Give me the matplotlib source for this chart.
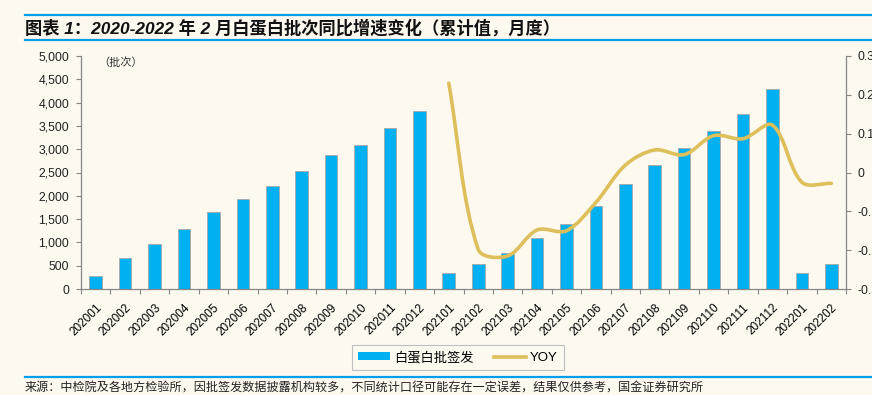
import matplotlib
matplotlib.use('Agg')
import math
import matplotlib.pyplot as plt
from matplotlib.lines import Line2D
from matplotlib.patches import PathPatch
from matplotlib.path import Path
from matplotlib.ticker import FuncFormatter

# monthly cumulative batches, 202001 .. 202202
months = ['202001', '202002', '202003', '202004', '202005', '202006',
          '202007', '202008', '202009', '202010', '202011', '202012',
          '202101', '202102', '202103', '202104', '202105', '202106',
          '202107', '202108', '202109', '202110', '202111', '202112',
          '202201', '202202']
batches = [270, 660, 970, 1290, 1650, 1930, 2210, 2525, 2880, 3100, 3450, 3830,
           340, 540, 770, 1090, 1400, 1790, 2250, 2670, 3020, 3400, 3760, 4290,
           340, 530]
# YOY only from 202101 on
yoy_start = 12
yoy = [0.23, -0.198, -0.215, -0.148, -0.15, -0.077, 0.019, 0.058, 0.046,
       0.095, 0.087, 0.122, -0.025, -0.028]

bg = '#FEF9EF'
blue = '#00B0F0'
gold = '#DDBF5C'
grey = '#868686'
cjk = ['Noto Sans CJK SC', 'DejaVu Sans']
latin = ['Liberation Sans', 'Noto Sans CJK SC']

fig = plt.figure(figsize=(8.72, 3.95), dpi=100, facecolor=bg)
ax = fig.add_axes([81/872, 1-289/395, 765/872, 233/395])
ax.set_facecolor(bg)

x = list(range(len(months)))
ax.bar(x, batches, width=0.43, color=blue, edgecolor='#A8A8A8', linewidth=0.6,
       zorder=2)
ax.set_xlim(-0.5, len(months) - 0.5)
ax.set_ylim(0, 5000)
ax.set_yticks(range(0, 5001, 500))
ax.yaxis.set_major_formatter(FuncFormatter(lambda v, p: f'{int(v):,}'))

ax.set_xticks(x)
ax.set_xticklabels(months, rotation=45, ha='right', rotation_mode='anchor',
                   family=latin, fontsize=8.5)
ax.set_xticks([i - 0.5 for i in range(len(months) + 1)], minor=True)
ax.tick_params(axis='x', which='major', length=0, pad=9)
ax.tick_params(axis='x', which='minor', length=3.5, color=grey, width=0.8)
ax.tick_params(axis='y', length=3.5, color=grey, width=0.8, pad=5,
               labelsize=8.8, labelcolor='#222222')
for lab in ax.get_yticklabels():
    lab.set_family(latin)

for s in ['top', 'right']:
    ax.spines[s].set_visible(False)
for s in ['left', 'bottom']:
    ax.spines[s].set_color(grey)
    ax.spines[s].set_linewidth(0.9)

ax.text(0.022, 0.97, '（批次）', transform=ax.transAxes, family=cjk,
        fontsize=8, color='#333333', va='center')

# right axis with the YOY line
ax2 = ax.twinx()
ax2.patch.set_visible(False)
ax2.set_ylim(-0.3, 0.3)
ax2.set_yticks([0.3, 0.2, 0.1, 0, -0.1, -0.2, -0.3])
ax2.yaxis.set_major_formatter(FuncFormatter(
    lambda v, p: '0' if abs(v) < 1e-9 else f'{v:.1f}'))
ax2.tick_params(axis='y', length=3.5, color=grey, width=0.8, pad=5,
                labelsize=8.8, labelcolor='#222222')
for lab in ax2.get_yticklabels():
    lab.set_family(latin)
for s in ['top', 'left', 'bottom']:
    ax2.spines[s].set_visible(False)
ax2.spines['right'].set_color(grey)
ax2.spines['right'].set_linewidth(0.9)

# smoothed line like the spreadsheet one: bezier through the points,
# control arms scaled by the screen length of the neighbouring segments
px = [yoy_start + i for i in range(len(yoy))]
scr = ax2.transData.transform(list(zip(px, yoy)))
n = len(scr)
dist = [math.hypot(*(scr[i + 1] - scr[i])) for i in range(n - 1)]
c_out, c_in = [None] * n, [None] * n
for i in range(n):
    if i == 0:
        c_out[i] = scr[0] + (scr[1] - scr[0]) / 3
        continue
    if i == n - 1:
        c_in[i] = scr[i] - (scr[i] - scr[i - 1]) / 3
        continue
    t = scr[i + 1] - scr[i - 1]
    a, b = dist[i - 1], dist[i]
    c_out[i] = scr[i] + t * b / (a + b) / 3
    c_in[i] = scr[i] - t * a / (a + b) / 3
verts = [scr[0]]
codes = [Path.MOVETO]
for i in range(n - 1):
    verts += [c_out[i], c_in[i + 1], scr[i + 1]]
    codes += [Path.CURVE4] * 3
verts = ax2.transData.inverted().transform(verts)
ax2.add_patch(PathPatch(Path(verts, codes), fill=False, edgecolor=gold,
                        linewidth=2.6, capstyle='round', joinstyle='round',
                        zorder=3))

# legend
handles = [plt.Rectangle((0, 0), 1, 1, facecolor=blue, edgecolor='none'),
           Line2D([], [], color=gold, linewidth=2.6)]
leg = fig.legend(handles, ['白蛋白批签发', 'YOY'], loc='center',
                 bbox_to_anchor=(458/872, 1-357.5/395), ncol=2,
                 frameon=True, fancybox=False, edgecolor='#BFBFBF',
                 facecolor=bg, framealpha=1, handlelength=2.4,
                 handleheight=0.55, columnspacing=1.6, handletextpad=0.3,
                 borderpad=0.45, prop={'family': cjk, 'size': 9.5})
leg.get_frame().set_linewidth(0.8)
leg.get_texts()[1].set_family(latin)

# title, source and the report rules
line_col = '#00A0E9'
fig.add_artist(Line2D([25/872, 1], [1-15/395]*2, color=line_col, lw=1.6))
fig.add_artist(Line2D([25/872, 1], [1-40/395]*2, color=line_col, lw=1.6))
fig.add_artist(Line2D([25/872, 1], [1-377/395]*2, color=line_col, lw=1.6))
fig.text(25/872, 1-27.5/395,
         '图表 1：2020-2022 年 2 月白蛋白批次同比增速变化（累计值，月度）',
         family=latin, style='italic', weight='bold', fontsize=12.4,
         va='center', ha='left', color='#111111')
fig.text(25/872, 1-388.5/395,
         '来源：中检院及各地方检验所，因批签发数据披露机构较多，不同统计口径可能存在一定误差，结果仅供参考，国金证券研究所',
         family=cjk, fontsize=8.7, va='center', ha='left', color='#222222')

fig.savefig('out.png', dpi=100, facecolor=bg)
